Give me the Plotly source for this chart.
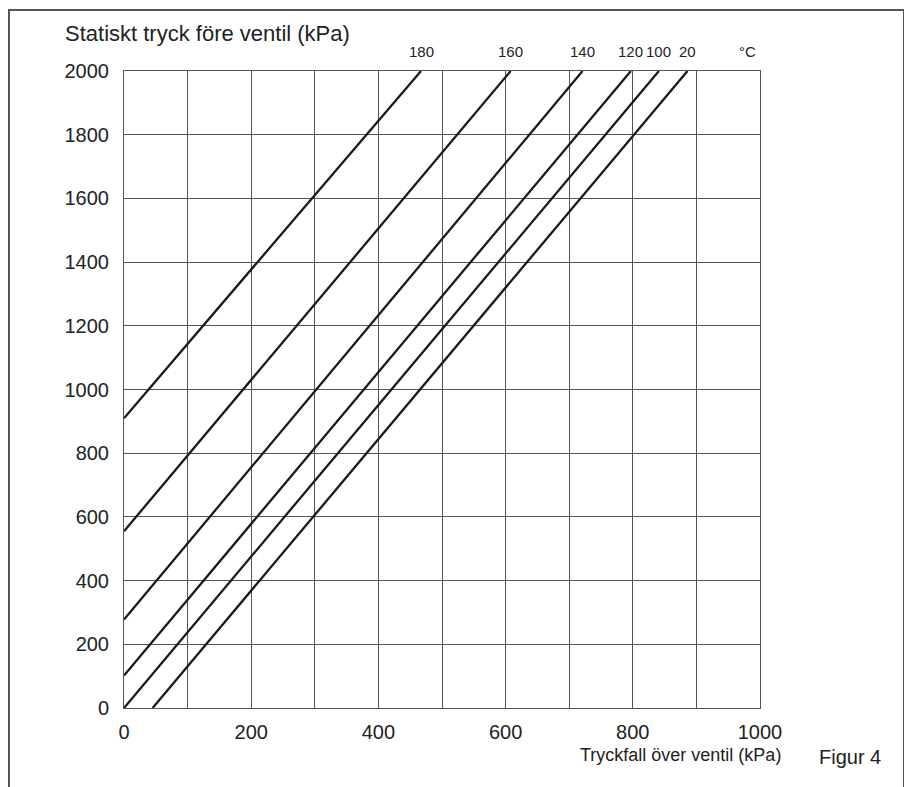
import plotly.graph_objects as go

# Temperature curves (°C): start point and end point (at top of chart)
temps = ["180", "160", "140", "120", "100", "20"]
x_start = [0, 0, 0, 0, 0, 45]
y_start = [910, 555, 278, 102, 0, 0]
x_end = [467, 608, 721, 797, 841, 886]
y_end = [2000, 2000, 2000, 2000, 2000, 2000]

x_ticks = [0, 200, 400, 600, 800, 1000]
y_ticks = [0, 200, 400, 600, 800, 1000, 1200, 1400, 1600, 1800, 2000]

FONT = "Liberation Sans, Arial, sans-serif"
TXT = "#222222"

# page body has an 8px margin; compensate so the picture lands at window pixels
OFF = 8
W, H = 912 - OFF, 787 - OFF
L, R, T, B = 124, 760, 71, 708  # plot area in window pixels
pw, ph = R - L, B - T

def px(xp):
    return (xp - L) / pw

def py(yp):
    return (B - yp) / ph

fig = go.Figure()
for t, xs, ys, xe, ye in zip(temps, x_start, y_start, x_end, y_end):
    fig.add_trace(go.Scatter(
        x=[xs, xe], y=[ys, ye], mode="lines", name=t + " °C",
        line=dict(color="#1a1a1a", width=2.3), showlegend=False,
        hoverinfo="skip",
    ))
    fig.add_annotation(x=xe, y=ye, xref="x", yref="y", text=t,
                       showarrow=False, yanchor="bottom", yshift=9,
                       font=dict(size=15, color=TXT, family=FONT))

fig.add_annotation(x=980, y=2000, xref="x", yref="y", text="°C",
                   showarrow=False, yanchor="bottom", yshift=9,
                   font=dict(size=15, color=TXT, family=FONT))

fig.add_annotation(x=px(63), y=py(34), xref="paper", yref="paper",
                   text="Statiskt tryck före ventil (kPa)", showarrow=False,
                   xanchor="left", yanchor="middle",
                   font=dict(size=22, color=TXT, family=FONT))
fig.add_annotation(x=px(680), y=py(755), xref="paper", yref="paper",
                   text="Tryckfall över ventil (kPa)", showarrow=False,
                   xanchor="center", yanchor="middle",
                   font=dict(size=18, color=TXT, family=FONT))
fig.add_annotation(x=px(850), y=py(757), xref="paper", yref="paper",
                   text="Figur 4", showarrow=False,
                   xanchor="center", yanchor="middle",
                   font=dict(size=20, color=TXT, family=FONT))

# outer frame (open at bottom)
fig.add_shape(type="path", xref="paper", yref="paper",
              path=f"M {px(9)},{py(800)} L {px(9)},{py(10)} L {px(904)},{py(10)} L {px(904)},{py(800)}",
              line=dict(color="#555555", width=2))

fig.update_xaxes(range=[0, 1000], tickvals=x_ticks, showgrid=True,
                 gridcolor="#555555", gridwidth=1,
                 minor=dict(showgrid=True, gridcolor="#555555", gridwidth=1, dtick=100, tick0=0),
                 showline=True, mirror=True, linecolor="#555555", linewidth=1,
                 zeroline=False, ticks="", ticklabelstandoff=6,
                 tickfont=dict(size=20, color=TXT, family=FONT), fixedrange=True)
fig.update_yaxes(range=[0, 2000], tickvals=y_ticks, showgrid=True,
                 gridcolor="#555555", gridwidth=1,
                 showline=True, mirror=True, linecolor="#555555", linewidth=1,
                 zeroline=False, ticks="", ticklabelstandoff=10,
                 tickfont=dict(size=20, color=TXT, family=FONT), fixedrange=True)

fig.update_layout(width=W, height=H, autosize=False,
                  margin=dict(l=L - OFF, r=912 - R, t=T - OFF, b=787 - B),
                  paper_bgcolor="white", plot_bgcolor="white",
                  showlegend=False)

fig.write_html("out.html", config={"displayModeBar": False})
